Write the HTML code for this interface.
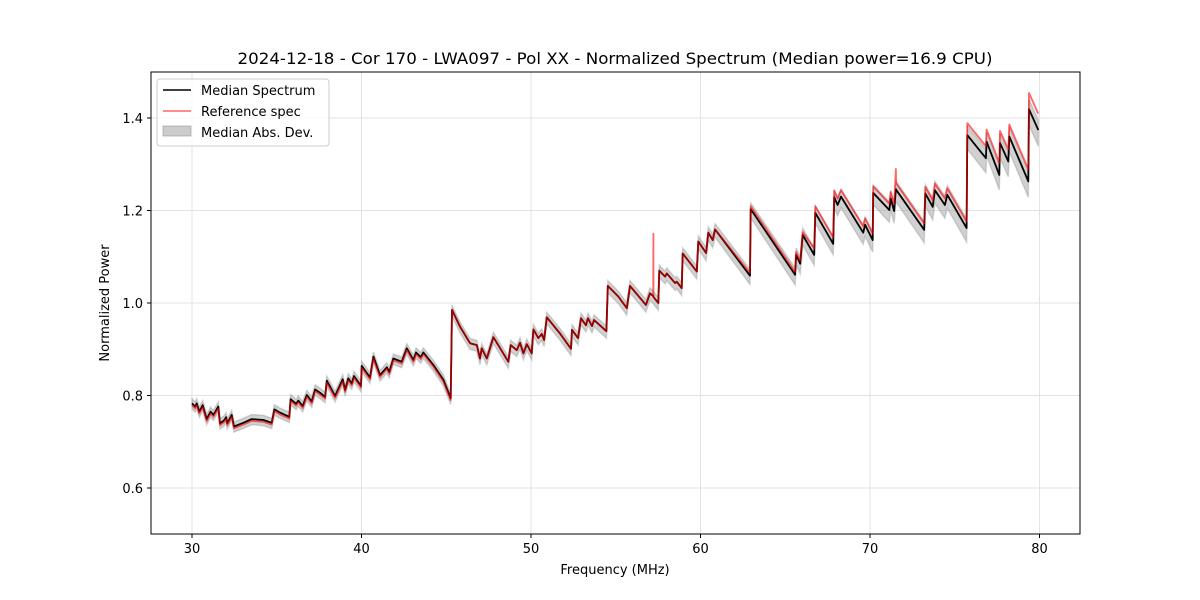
<!DOCTYPE html>
<html><head><meta charset="utf-8"><style>
body{margin:0;background:#fff;}
svg{display:block;font-family:"DejaVu Sans","Liberation Sans",sans-serif;}
</style></head><body>
<svg id="chart" width="1200" height="600" viewBox="0 0 1200 600" xmlns="http://www.w3.org/2000/svg">
<rect x="0" y="0" width="1200" height="600" fill="#fff"/>
<text x="615" y="64" text-anchor="middle" font-size="16" textLength="755" lengthAdjust="spacingAndGlyphs">2024-12-18 - Cor 170 - LWA097 - Pol XX - Normalized Spectrum (Median power=16.9 CPU)</text>
<g id="grid"></g>
<g id="marks"></g>
<rect x="151" y="72" width="929" height="462" fill="none" stroke="#000" stroke-width="1"/>
<g id="ticks"></g>
<text x="615" y="574" text-anchor="middle" font-size="13">Frequency (MHz)</text>
<text transform="translate(109,303) rotate(-90)" text-anchor="middle" font-size="13">Normalized Power</text>
<g>
<rect x="157" y="79" width="172" height="67" rx="3" fill="#fff" fill-opacity="0.8" stroke="#ccc"/>
<line x1="163" y1="90" x2="191" y2="90" stroke="#000" stroke-width="1.5"/>
<text x="201" y="95" font-size="13">Median Spectrum</text>
<line x1="163" y1="111" x2="191" y2="111" stroke="#ff0000" stroke-opacity="0.6" stroke-width="1.5"/>
<text x="201" y="116" font-size="13">Reference spec</text>
<rect x="163" y="126" width="28" height="10" fill="#999" fill-opacity="0.5" stroke="#888" stroke-opacity="0.5"/>
<text x="201" y="137" font-size="13">Median Abs. Dev.</text>
</g>
</svg>
<script>
const freq=[30.00,30.18,30.28,30.43,30.63,30.87,31.10,31.26,31.55,31.65,31.89,32.01,32.08,32.34,32.48,33.03,33.52,34.21,34.70,34.86,35.19,35.74,35.82,36.14,36.27,36.53,36.77,37.06,37.26,37.55,37.85,37.95,38.44,38.89,39.03,39.22,39.42,39.56,39.97,40.01,40.50,40.70,41.09,41.49,41.64,41.88,42.37,42.67,43.06,43.22,43.49,43.65,44.24,44.83,45.26,45.34,45.81,46.40,46.80,46.99,47.09,47.39,47.78,48.66,48.80,49.16,49.35,49.55,49.75,50.04,50.14,50.43,50.63,50.77,50.93,51.71,52.36,52.42,52.77,52.95,53.24,53.36,53.60,53.72,54.45,54.53,55.15,55.65,55.84,56.78,57.02,57.21,57.22,57.23,57.51,57.57,57.91,58.01,58.50,58.60,58.89,58.95,59.78,59.87,60.33,60.46,60.72,60.86,62.92,62.96,65.58,65.64,65.88,66.03,66.71,66.77,67.83,67.89,68.09,68.29,69.60,69.71,70.16,70.19,71.14,71.22,71.42,71.53,71.54,73.20,73.26,73.70,73.83,74.42,74.56,75.70,75.74,76.84,76.88,77.63,77.67,78.16,78.22,79.34,79.38,79.93];
const median=[0.783,0.776,0.783,0.765,0.779,0.749,0.765,0.758,0.776,0.740,0.746,0.753,0.740,0.758,0.733,0.741,0.749,0.747,0.741,0.770,0.763,0.754,0.792,0.782,0.789,0.777,0.801,0.787,0.813,0.806,0.797,0.832,0.799,0.835,0.812,0.837,0.826,0.842,0.821,0.864,0.839,0.884,0.844,0.861,0.851,0.880,0.873,0.902,0.877,0.893,0.883,0.893,0.866,0.834,0.794,0.985,0.949,0.913,0.909,0.880,0.902,0.880,0.926,0.873,0.909,0.898,0.914,0.891,0.911,0.891,0.943,0.924,0.933,0.920,0.969,0.934,0.901,0.942,0.924,0.967,0.952,0.967,0.950,0.963,0.939,1.037,1.014,0.989,1.037,0.996,1.021,1.015,1.014,1.013,1.000,1.070,1.057,1.064,1.043,1.046,1.032,1.107,1.068,1.133,1.108,1.152,1.136,1.159,1.059,1.203,1.061,1.104,1.085,1.147,1.104,1.195,1.128,1.229,1.212,1.230,1.152,1.169,1.136,1.238,1.201,1.226,1.199,1.246,1.245,1.158,1.237,1.208,1.244,1.212,1.234,1.162,1.363,1.313,1.349,1.277,1.346,1.306,1.360,1.263,1.419,1.374];
const refOffsetStart=[30,45.3,62.9,66.7,75.72,79.36];
const refOffsetValue=[-0.004,0,0.006,0.014,0.026,0.035];
const refSpikeFreq=[57.22,71.53];
const refSpikeValue=[1.15,1.29];
const madFreq=[30,45,60,66,75.7,80];
const madLow=[0.012,0.013,0.016,0.022,0.03,0.035];
const madHigh=[0.010,0.010,0.012,0.015,0.02,0.022];
const xTicks=[30,40,50,60,70,80];
const yTicks=[0.6,0.8,1.0,1.2,1.4];

const X0=151,X1=1080,Y0=72,Y1=534;
const xScale=f=>192+(f-30)*16.95;
const yScale=v=>303-(v-1.0)*462.5;
const NS='http://www.w3.org/2000/svg';
function mk(tag,attrs,parent){const e=document.createElementNS(NS,tag);for(const k in attrs)e.setAttribute(k,attrs[k]);parent.appendChild(e);return e;}
const grid=document.getElementById('grid'),marks=document.getElementById('marks'),ticks=document.getElementById('ticks');
xTicks.forEach(t=>{const x=xScale(t);
 const g=mk('line',{x1:x,x2:x,y1:Y0,y2:Y1,stroke:'#e3e3e3','stroke-width':1},grid);
 
 
 const tk=mk('line',{x1:x,x2:x,y1:Y1,y2:Y1+4,stroke:'#000'},ticks);
 
 
 const lb=mk('text',{x:x,y:Y1+19,'text-anchor':'middle','font-size':13},ticks);lb.textContent=String(t);
 
 
});
yTicks.forEach(t=>{const y=yScale(t);
 const g=mk('line',{x1:X0,x2:X1,y1:y,y2:y,stroke:'#e3e3e3','stroke-width':1},grid);
 
 
 const tk=mk('line',{x1:X0-4,x2:X0,y1:y,y2:y,stroke:'#000'},ticks);
 
 
 const lb=mk('text',{x:X0-8,y:y+5,'text-anchor':'end','font-size':13},ticks);lb.textContent=t.toFixed(1);
 
 
});
function interp(xs,ys,x){if(x<=xs[0])return ys[0];for(let i=1;i<xs.length;i++){if(x<=xs[i]){const t=(x-xs[i-1])/(xs[i]-xs[i-1]);return ys[i-1]+t*(ys[i]-ys[i-1]);}}return ys[ys.length-1];}
function offsetAt(f){let o=refOffsetValue[0];for(let i=0;i<refOffsetStart.length;i++){if(f>=refOffsetStart[i])o=refOffsetValue[i];}return o;}
const reference=freq.map((f,i)=>{const s=refSpikeFreq.indexOf(f);return s>=0?refSpikeValue[s]:median[i]+offsetAt(f);});
let up=[],dn=[];
freq.forEach((f,i)=>{up.push(xScale(f).toFixed(1)+','+yScale(median[i]+interp(madFreq,madHigh,f)).toFixed(1));dn.push(xScale(f).toFixed(1)+','+yScale(median[i]-interp(madFreq,madLow,f)).toFixed(1));});
const band=mk('polygon',{points:up.concat(dn.reverse()).join(' '),fill:'#999','fill-opacity':0.45,stroke:'#999','stroke-opacity':0.4,'stroke-width':1.5},marks);


const mp=freq.map((f,i)=>xScale(f).toFixed(1)+','+yScale(median[i]).toFixed(1)).join(' ');
const ml=mk('polyline',{points:mp,fill:'none',stroke:'#000','stroke-width':1.8,'stroke-linejoin':'round'},marks);


const rp=freq.map((f,i)=>xScale(f).toFixed(1)+','+yScale(reference[i]).toFixed(1)).join(' ');
const rl=mk('polyline',{points:rp,fill:'none',stroke:'#ff0000','stroke-opacity':0.6,'stroke-width':1.8,'stroke-linejoin':'round'},marks);


</script>
</body></html>
